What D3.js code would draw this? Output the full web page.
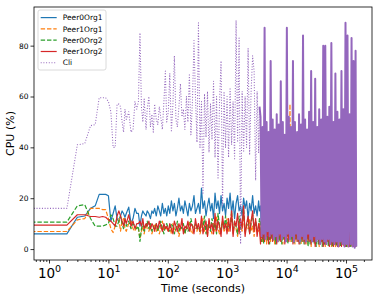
<!DOCTYPE html>
<html>
<head>
<meta charset="utf-8">
<script src="https://cdn.jsdelivr.net/npm/d3@7"></script>
<style>
    body { margin: 0; background: #fff; }
    svg { display: block; font-family: 'DejaVu Sans', sans-serif; }
</style>
</head>
<body>
<div id="chart-area"></div>
<script>
// DATA
// =================

// sample times (seconds); first one stands in for t=0, which sits off the log axis
var time = [
    0.5, 1, 2, 3, 4, 5, 6, 7, 8, 9, 10, 11, 12, 13, 14, 15, 16, 17, 18, 19, 20, 22, 24, 26, 28, 30,
    32, 34, 36, 38, 40, 43, 45, 48, 51, 54, 57, 60, 64, 68, 72, 76, 81, 86, 91, 96,
    102, 108, 115, 122, 129, 137, 145, 154, 163, 173, 183, 194, 206, 218, 231,
    245, 260, 276, 292, 310, 328, 348, 369, 391, 415, 440, 466, 494, 524, 555,
    589, 624, 662, 701, 743, 788, 835, 885, 938, 995, 1055, 1118, 1185, 1256, 1331,
    1411, 1496, 1586, 1681, 1782, 1889, 2002, 2122, 2249, 2384, 2527, 2679, 2840, 3010, 3190, 3380, 3500,
    3640, 3790, 3940, 4100, 4260, 4430, 4610, 4790, 4980, 5180,
    5390, 5610, 5830, 6070, 6310, 6560, 6820, 7100, 7380, 7680,
    7980, 8300, 8640, 8980, 9340, 9710, 10100, 10500, 10900, 11400,
    11800, 12300, 12800, 13300, 13800, 14400, 15000, 15600, 16200, 16800,
    17500, 18200, 18900, 19700, 20500, 21300, 22100, 23000, 23900, 24900,
    25900, 26900, 28000, 29100, 30300, 31500, 32800, 34100, 35400, 36800,
    38300, 39800, 41400, 43100, 44800, 46600, 48500, 50400, 52400, 54500,
    56700, 59000, 61300, 63800, 66300, 69000, 71700, 74600, 77600, 80700,
    83900, 87300, 90700, 94400, 98100, 102000, 106000, 110000, 115000, 120000,
    124000, 129000, 134000, 140000, 145000, 149000
];

var peer0Org1 = [
    6, 6, 6, 12.5, 13, 16, 17, 21.5, 21.5, 21.5, 21, 11, 14, 17, 12, 10.5, 13, 15, 14, 12.5, 14, 16.5, 10, 12, 16, 14,
    14, 9, 13, 15, 14, 13, 15, 14, 12, 15,
    14, 16, 13, 17, 15, 13, 18, 14, 16, 13,
    17, 14, 19, 15, 18, 13, 16, 20, 15, 17, 14, 19, 16, 13, 18, 15, 17, 21, 14, 16,
    18, 14, 24, 16, 19, 13, 17, 20, 15, 18, 12, 22, 16, 19, 14, 21, 15, 18, 13, 20,
    16, 22, 14, 19, 12, 18, 21, 15, 17, 13, 20, 16, 19, 12, 18, 15, 21, 14, 17, 13, 19, 15,
    17, 5, 15, 4, 19, 6, 14, 5, 16, 4,
    18, 6, 13, 5, 17, 4, 15, 6, 19, 5,
    14, 4, 16, 5, 18, 4, 13, 6, 17, 5,
    15, 4, 19, 5, 14, 4, 16, 6, 18, 5,
    13, 4, 17, 5, 15, 4, 12, 3, 16, 5,
    14, 4, 13, 3, 15, 4, 12, 3, 14, 4,
    13, 3, 15, 2, 12, 4, 14, 3, 13, 2,
    15, 3, 12, 2, 14, 3, 11, 2, 13, 3,
    12, 2, 14, 3, 11, 2, 13, 2, 12, 3,
    11, 2, 13, 2, 12, 2
];

var peer1Org1 = [
    6.9, 6.9, 6.9, 11.5, 12, 16, 16, 16, 15.5, 15.5, 12, 8, 6.5, 9, 12, 12, 7, 11, 12, 8, 7, 10, 11, 8, 7, 9,
    8, 4, 7, 9, 6, 10, 8, 7, 9, 6,
    8, 10, 7, 9, 6, 8, 11, 7, 9, 8,
    7, 9, 6, 10, 8, 7, 9, 5, 8, 10, 7, 6, 9, 8, 11, 7, 6, 9, 8, 7,
    10, 6, 8, 12, 7, 9, 5, 11, 8, 6, 10, 7, 13, 8, 6, 9, 11, 7, 8, 12,
    7, 9, 14, 6, 10, 8, 5, 11, 9, 7, 13, 6, 10, 8, 12, 7, 9, 5, 11, 8, 7, 10,
    4, 11, 3, 9, 5, 12, 2, 10, 4, 8,
    3, 11, 5, 9, 2, 12, 4, 10, 3, 8,
    5, 11, 2, 9, 4, 12, 3, 10, 5, 57,
    3, 11, 4, 9, 2, 10, 5, 8, 3, 11,
    2, 9, 4, 10, 3, 8, 2, 11, 4, 9,
    1, 10, 3, 8, 2, 9, 4, 7, 1, 10,
    3, 8, 2, 9, 1, 7, 3, 10, 2, 8,
    1, 9, 2, 7, 1, 8, 3, 9, 1, 7,
    2, 8, 1, 9, 2, 7, 1, 8, 2, 7,
    1, 8, 2, 7, 1, 6
];

var peer0Org2 = [
    10.6, 10.6, 10.6, 17, 17.5, 12, 9, 9, 9, 9.5, 10, 13.5, 12, 9, 9, 11, 13, 10, 8, 12, 9, 11, 8, 10, 9, 8,
    9, 3, 8, 10, 7, 9, 11, 8, 10, 7,
    9, 8, 10, 7, 9, 11, 8, 6, 9, 10,
    8, 7, 10, 9, 6, 8, 11, 7, 9, 8, 10, 6, 9, 7, 8, 12, 9, 7, 10, 8,
    9, 7, 11, 8, 13, 6, 10, 9, 7, 12, 8, 10, 6, 14, 9, 7, 11, 8, 13, 7,
    10, 8, 15, 7, 11, 9, 6, 13, 8, 10, 16, 7, 9, 12, 6, 10, 14, 8, 11, 7, 9, 12,
    10, 3, 12, 2, 9, 4, 11, 3, 13, 2,
    10, 4, 12, 3, 9, 2, 11, 4, 10, 3,
    12, 2, 9, 4, 11, 3, 13, 2, 10, 4,
    9, 3, 11, 2, 12, 4, 10, 3, 9, 2,
    11, 3, 10, 2, 12, 3, 9, 1, 11, 2,
    10, 3, 9, 2, 11, 1, 10, 2, 9, 3,
    10, 1, 9, 2, 11, 2, 8, 1, 10, 2,
    9, 1, 10, 2, 8, 1, 9, 2, 10, 1,
    8, 2, 9, 1, 10, 1, 8, 2, 9, 1,
    8, 1, 9, 1, 8, 1
];

var peer1Org2 = [
    9.4, 9.4, 9.4, 13.5, 13.5, 12.8, 12.8, 12.5, 12.8, 12.5, 11.5, 11, 10, 9, 13, 15, 13, 11, 9, 12, 10, 13.5, 9, 11, 8, 10,
    10, 11, 9, 12, 8, 10, 9, 11, 8, 10,
    9, 7, 10, 8, 11, 9, 7, 10, 8, 9,
    7, 10, 8, 6, 11, 9, 7, 10, 8, 12, 6, 9, 8, 11, 7, 10, 9, 6, 12, 8,
    10, 7, 13, 6, 9, 11, 5, 12, 8, 10, 6, 14, 7, 11, 9, 5, 13, 8, 10, 6,
    12, 7, 15, 5, 11, 9, 14, 6, 12, 8, 17, 5, 10, 13, 6, 11, 15, 7, 12, 5, 10, 8,
    2, 12, 4, 10, 3, 13, 5, 9, 2, 11,
    4, 12, 3, 10, 5, 9, 2, 11, 4, 13,
    3, 10, 5, 12, 2, 9, 4, 11, 3, 10,
    5, 12, 2, 9, 4, 11, 3, 10, 2, 12,
    4, 9, 3, 11, 2, 10, 4, 8, 3, 11,
    2, 9, 3, 10, 1, 8, 4, 11, 2, 9,
    3, 10, 1, 8, 2, 9, 3, 11, 1, 8,
    2, 9, 1, 10, 2, 8, 1, 9, 3, 8,
    1, 9, 2, 8, 1, 10, 2, 8, 1, 9,
    2, 8, 1, 9, 1, 7
];

var cli = [
    16, 16, 16, 41, 41.5, 48.5, 49, 59.5, 59.5, 59.5, 58, 54, 40, 40, 57, 57, 56, 50, 46, 55, 51, 54, 46, 47, 58, 55,
    58, 85, 56, 50, 59, 47, 55, 60, 48, 53, 46, 57, 51, 49, 56,
    52, 47, 58, 70, 50, 54, 69, 46, 57, 76, 51, 48, 56, 65, 52,
    55, 47, 60, 50, 69, 45, 58, 82,
    60, 42, 89, 40, 58, 22, 61, 44, 62, 38,
    57, 43, 66, 36, 60, 28, 58, 74, 17, 62,
    40, 60, 36, 63, 41, 58, 35, 90, 42, 83,
    2, 62, 38, 60, 40, 79, 37, 62, 76, 70,
    27, 62, 38, 56,
    52, 5, 48, 6, 87, 4, 50, 7, 46, 5,
    74, 6, 51, 4, 47, 5, 53, 3, 49, 6,
    66, 4, 50, 5, 45, 3, 87, 6, 52, 4,
    48, 5, 74, 3, 50, 6, 46, 4, 53, 3,
    49, 5, 84, 4, 51, 3, 47, 6, 54, 4,
    70, 3, 50, 5, 67, 3, 48, 4, 55, 2,
    51, 4, 80, 3, 80, 2, 52, 4, 56, 2,
    81, 3, 50, 2, 69, 3, 54, 1, 51, 3,
    70, 2, 55, 1, 89, 2, 84, 1, 53, 2,
    83, 1, 74, 0.5, 78, 1
];

var seriesNames = ['Peer0Org1', 'Peer1Org1', 'Peer0Org2', 'Peer1Org2', 'Cli'];
var seriesValues = [peer0Org1, peer1Org1, peer0Org2, peer1Org2, cli];

var yTicks = [0, 20, 40, 60, 80];
var xTicks = [1, 10, 100, 1000, 10000, 100000];
var xTickExp = ['0', '1', '2', '3', '4', '5'];

seriesValues.forEach(function (vals, i) {
    if (vals.length !== time.length) {
        throw new Error(seriesNames[i] + ' has ' + vals.length + ' values, time has ' + time.length);
    }
});

// STYLE
// =================
var colors = ['#1f77b4', '#ff7f0e', '#2ca02c', '#d62728', '#9467bd'];
var dashes = [null, '4.4,1.9', '4.4,1.9', null, '1,1.7'];
var widths = [1.2, 1.2, 1.2, 1.2, 1.05];
var denseFrom = 3500;   // past this the Cli trace is packed so tight it reads as solid
var denseWidth = 2;

// CANVAS + MARGINS
// =================
var margin = { left: 34, right: 9, top: 7, bottom: 41 };
var width = 381 - margin.left - margin.right;
var height = 301 - margin.top - margin.bottom;

var svg = d3.select('#chart-area')
    .append('svg')
        .attr('width', 381)
        .attr('height', 301);

var g = svg.append('g')
    .attr('transform', 'translate(' + margin.left + ',' + margin.top + ')');

g.append('clipPath')
    .attr('id', 'plot-clip')
    .append('rect')
        .attr('width', width)
        .attr('height', height);

// SCALES
// =================
var x = d3.scaleLog()
    .domain([0.559, 274000])
    .range([0, width]);

var y = d3.scaleLinear()
    .domain([-4.3, 95.2])
    .range([height, 0]);

// LINES
// =================
var line = d3.line()
    .x(function (d) { return x(d.t); })
    .y(function (d) { return y(d.v); });

var plot = g.append('g').attr('clip-path', 'url(#plot-clip)');

seriesValues.forEach(function (vals, i) {
    var pts = time.map(function (t, j) { return { t: t, v: vals[j] }; });
    var parts = [pts];
    if (seriesNames[i] === 'Cli') {
        parts = [
            pts.filter(function (d) { return d.t <= denseFrom; }),
            pts.filter(function (d) { return d.t >= denseFrom; })
        ];
    }
    parts.forEach(function (p, k) {
        plot.append('path')
            .datum(p)
            .attr('d', line)
            .attr('fill', 'none')
            .attr('stroke', colors[i])
            .attr('stroke-width', k === 0 ? widths[i] : denseWidth)
            .attr('stroke-linejoin', 'round')
            .attr('stroke-dasharray', k === 0 ? dashes[i] : null);
    });
});

// AXES
// =================
var xAxisCall = d3.axisBottom(x)
    .tickValues(xTicks)
    .tickSize(3.5)
    .tickSizeOuter(0)
    .tickFormat(function () { return '10'; });

var xAxis = g.append('g')
    .attr('class', 'x axis')
    .attr('transform', 'translate(0,' + height + ')')
    .call(xAxisCall);

xAxis.selectAll('text')
    .attr('y', 17.7)
    .attr('dy', 0)
    .attr('font-size', '13.5px')
    .attr('font-family', 'DejaVu Sans')
    .attr('fill', '#000')
    .append('tspan')
        .attr('dy', -6)
        .attr('font-size', '9.5px')
        .text(function (d, i) { return xTickExp[i]; });

var minorTicks = x.ticks().filter(function (d) {
    return Math.abs(Math.log10(d) - Math.round(Math.log10(d))) > 1e-6;
});

var xMinorCall = d3.axisBottom(x)
    .tickValues(minorTicks)
    .tickSize(2)
    .tickSizeOuter(0)
    .tickFormat('');

g.append('g')
    .attr('class', 'x axis minor')
    .attr('transform', 'translate(0,' + height + ')')
    .call(xMinorCall);

var yAxisCall = d3.axisLeft(y)
    .tickValues(yTicks)
    .tickSize(3.5)
    .tickSizeOuter(0);

g.append('g')
    .attr('class', 'y axis')
    .call(yAxisCall)
    .selectAll('text')
        .attr('x', -5.5)
        .attr('font-size', '7.5px')
        .attr('font-family', 'DejaVu Sans')
        .attr('fill', '#000');

g.selectAll('.axis .domain').remove();
g.selectAll('.axis line')
    .attr('stroke', '#000')
    .attr('stroke-width', 0.8);

g.append('rect')
    .attr('width', width)
    .attr('height', height)
    .attr('fill', 'none')
    .attr('stroke', '#000')
    .attr('stroke-width', 0.8);

// LABELS
// =================
g.append('text')
    .attr('class', 'x axis-label')
    .attr('x', width / 2)
    .attr('y', height + 31.5)
    .attr('font-size', '11px')
    .attr('text-anchor', 'middle')
    .text('Time (seconds)');

g.append('text')
    .attr('class', 'y axis-label')
    .attr('x', -(height / 2))
    .attr('y', -20.5)
    .attr('font-size', '11px')
    .attr('text-anchor', 'middle')
    .attr('transform', 'rotate(-90)')
    .text('CPU (%)');

// LEGEND
// =================
var legend = g.append('g')
    .attr('transform', 'translate(4,3)');

legend.append('rect')
    .attr('width', 68)
    .attr('height', 60)
    .attr('rx', 2)
    .attr('fill', '#fff')
    .attr('fill-opacity', 0.8)
    .attr('stroke', '#d0d0d0')
    .attr('stroke-width', 0.8);

var entries = legend.selectAll('.entry')
    .data(seriesNames)
    .enter()
    .append('g')
        .attr('class', 'entry')
        .attr('transform', function (d, i) { return 'translate(0,' + (7.6 + i * 11.3) + ')'; });

entries.append('line')
    .attr('x1', 2.7)
    .attr('x2', 18.7)
    .attr('stroke', function (d, i) { return colors[i]; })
    .attr('stroke-width', function (d, i) { return widths[i]; })
    .attr('stroke-dasharray', function (d, i) { return dashes[i]; });

entries.append('text')
    .attr('x', 24.7)
    .attr('dy', '0.35em')
    .attr('font-size', '7.5px')
    .text(function (d) { return d; });
</script>
</body>
</html>
